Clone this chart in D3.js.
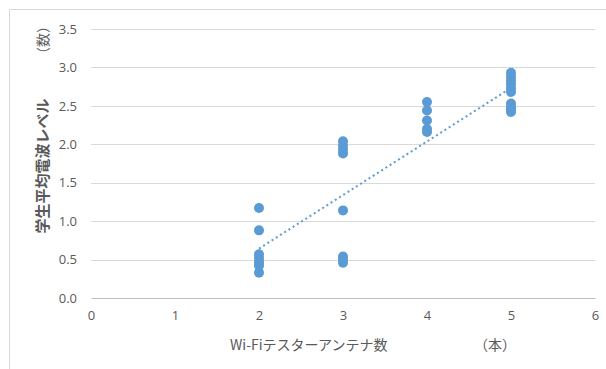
<!DOCTYPE html>
<html>
<head>
<meta charset="utf-8">
<script src="https://cdn.jsdelivr.net/npm/d3@7"></script>
<style>
  body { margin: 0; background: #fff; }
  text { font-family: "Noto Sans CJK JP", "Noto Sans", sans-serif; }
</style>
</head>
<body>
<script>
// some dots overlap in the picture, so a few hidden repeats are included
const antennas = [2, 2, 2, 2, 2, 2, 2, 2,
  3, 3, 3, 3, 3, 3, 3, 3,
  4, 4, 4, 4, 4,
  5, 5, 5, 5, 5, 5, 5, 5, 5, 5, 5]
const levels = [1.17, 0.88, 0.57, 0.52, 0.47, 0.45, 0.42, 0.33,
  2.04, 1.98, 1.93, 1.88, 1.14, 0.54, 0.5, 0.46,
  2.55, 2.44, 2.31, 2.2, 2.16,
  2.93, 2.88, 2.83, 2.78, 2.73, 2.68, 2.53, 2.48, 2.45, 2.45, 2.42]
const xTicks = [0, 1, 2, 3, 4, 5, 6]
const yTicks = [0, 0.5, 1, 1.5, 2, 2.5, 3, 3.5]

const data = antennas.map((x, i) => ({ x, y: levels[i] }))

const W = 606, H = 369
const margin = { top: 29, right: 11, bottom: 71, left: 91 }
const width = W - margin.left - margin.right
const height = H - margin.top - margin.bottom

const svg = d3.select('body').append('svg')
  .attr('width', W)
  .attr('height', H)

// chart frame (only top and left edges visible)
svg.append('path')
  .attr('d', `M9.5,${H} V9.5 H${W}`)
  .style('fill', 'none')
  .style('stroke', '#d9d9d9')
  .style('stroke-width', 1)

const g = svg.append('g')
  .attr('transform', `translate(${margin.left} ${margin.top})`)

const xScale = d3.scaleLinear().domain([0, 6]).range([0, width])
const yScale = d3.scaleLinear().domain([0, 3.5]).range([height, 0])

// gridlines
g.selectAll('.grid')
  .data(yTicks.slice(1))
  .enter().append('line')
  .attr('x1', 0)
  .attr('x2', width)
  .attr('y1', d => Math.round(yScale(d)) + 0.5)
  .attr('y2', d => Math.round(yScale(d)) + 0.5)
  .style('stroke', '#d9d9d9')
  .style('stroke-width', 1)

const xAxis = g.append('g')
  .attr('transform', `translate(0, ${height})`)
  .call(d3.axisBottom(xScale).tickValues(xTicks).tickSize(0).tickPadding(13).tickFormat(d3.format('d')))
xAxis.select('.domain').style('stroke', '#bfbfbf')

const yAxis = g.append('g')
  .call(d3.axisLeft(yScale).tickValues(yTicks).tickSize(0).tickPadding(14).tickFormat(d3.format('.1f')))
yAxis.select('.domain').remove()

g.selectAll('.tick text')
  .style('font-family', '"Open Sans", "Noto Sans", sans-serif')
  .style('font-size', '13px')
  .style('fill', '#595959')

// linear trendline (least squares)
const mx = d3.mean(data, d => d.x)
const my = d3.mean(data, d => d.y)
const slope = d3.sum(data, d => (d.x - mx) * (d.y - my)) / d3.sum(data, d => (d.x - mx) ** 2)
const intercept = my - slope * mx
const xr = d3.extent(antennas)

g.append('line')
  .attr('x1', xScale(xr[0]))
  .attr('y1', yScale(intercept + slope * xr[0]))
  .attr('x2', xScale(xr[1]))
  .attr('y2', yScale(intercept + slope * xr[1]))
  .style('stroke', '#5b9bd5')
  .style('stroke-width', 2)
  .style('stroke-dasharray', '2 3')

g.selectAll('.dot')
  .data(data)
  .enter().append('circle')
  .attr('class', 'dot')
  .attr('cx', d => xScale(d.x))
  .attr('cy', d => yScale(d.y))
  .attr('r', 5)
  .style('fill', '#5b9bd5')

// axis titles
svg.append('text')
  .attr('x', 230)
  .attr('y', 350)
  .style('font-size', '14px')
  .style('fill', '#595959')
  .text('Wi-Fiテスターアンテナ数')

svg.append('text')
  .attr('x', 495)
  .attr('y', 350)
  .attr('text-anchor', 'middle')
  .style('font-size', '14px')
  .style('fill', '#595959')
  .text('（本）')

svg.append('text')
  .attr('transform', 'translate(48 166) rotate(-90)')
  .attr('text-anchor', 'middle')
  .style('font-size', '15px')
  .style('font-weight', 'bold')
  .style('fill', '#595959')
  .text('学生平均電波レベル')

svg.append('text')
  .attr('transform', 'translate(48 40) rotate(-90)')
  .attr('text-anchor', 'middle')
  .style('font-size', '14px')
  .style('fill', '#595959')
  .text('（数）')
</script>
</body>
</html>
